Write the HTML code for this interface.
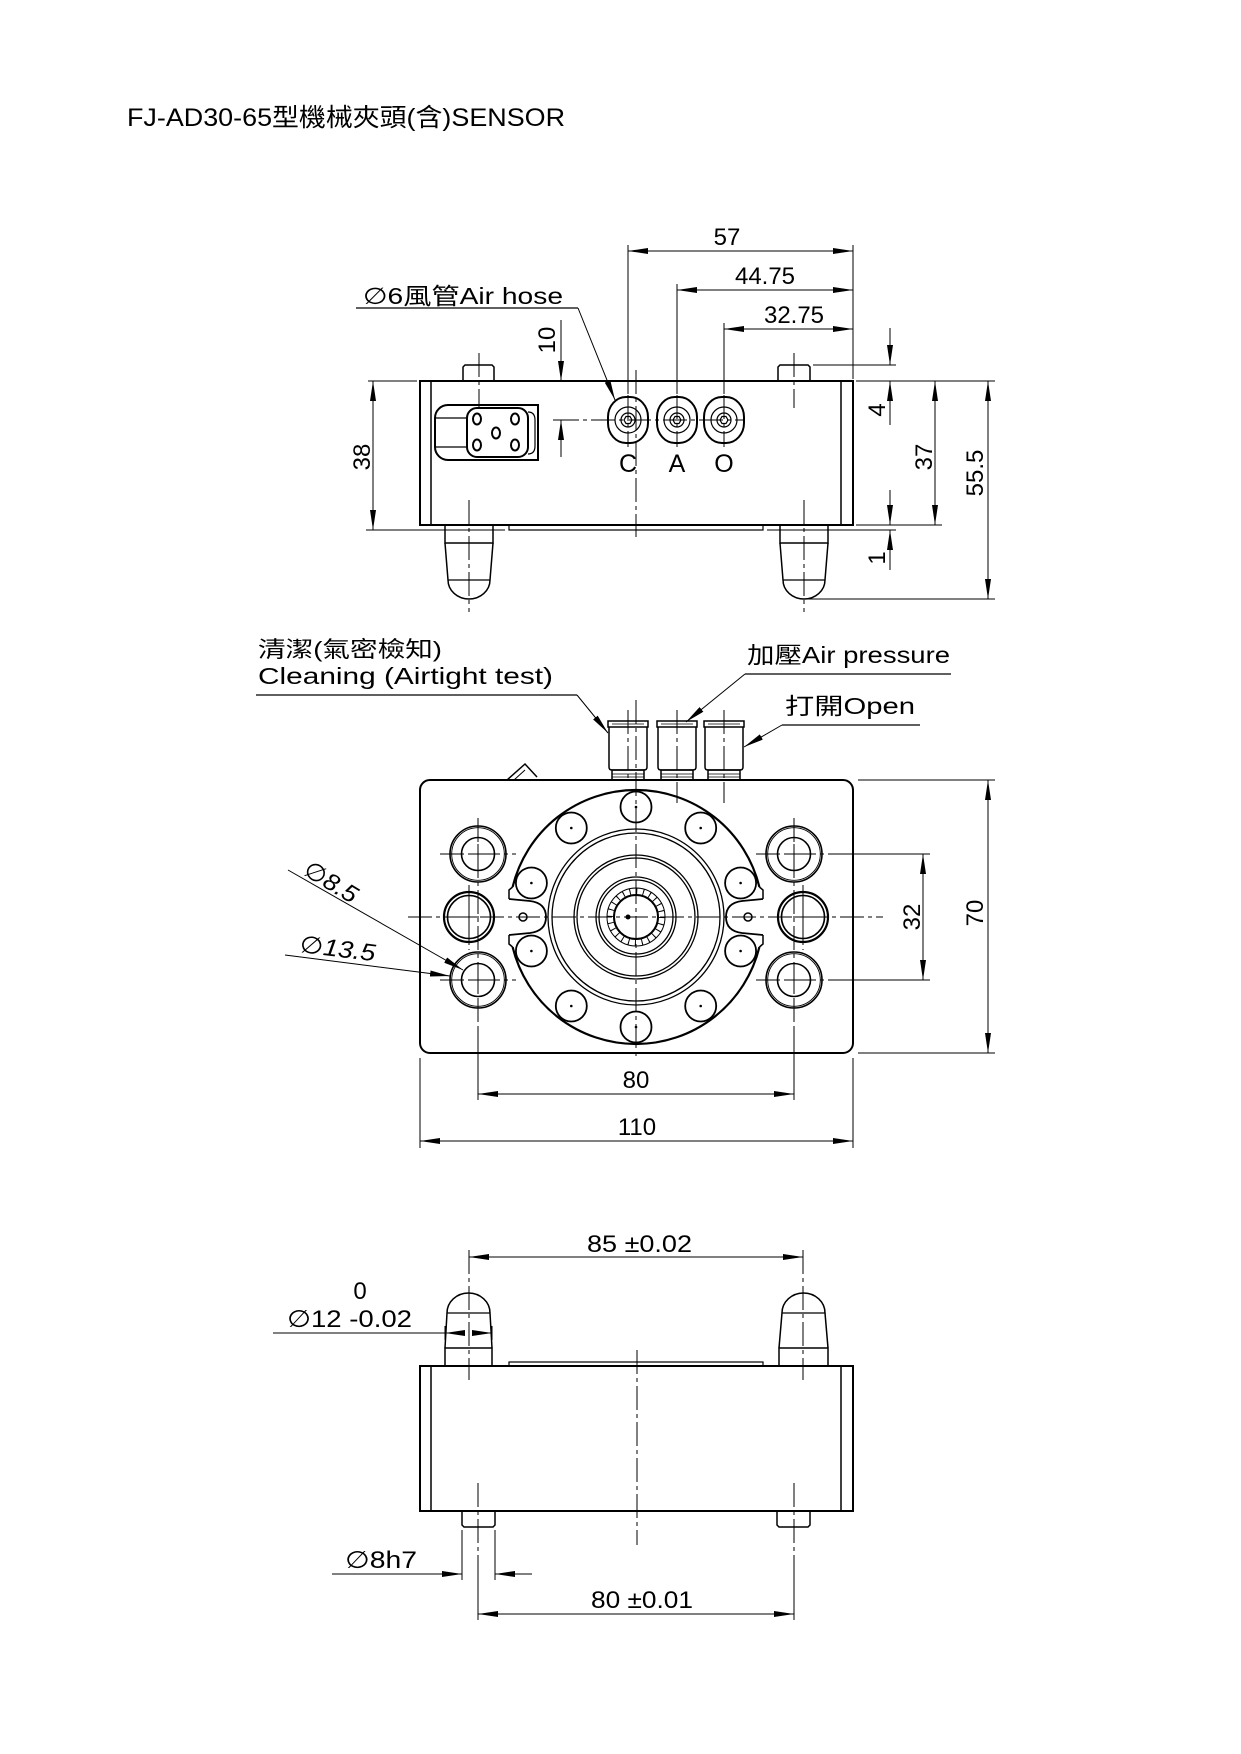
<!DOCTYPE html>
<html><head><meta charset="utf-8"><style>
html,body{margin:0;padding:0;background:#fff;}
svg{display:block;}
text{font-family:"Liberation Sans","DejaVu Sans","Noto Sans CJK TC",sans-serif;fill:#000;}
</style></head><body>
<svg width="1241" height="1754" viewBox="0 0 1241 1754" xmlns="http://www.w3.org/2000/svg">
<defs>
<marker id="a" viewBox="0 0 20 6" refX="20" refY="3" markerWidth="20" markerHeight="6" markerUnits="userSpaceOnUse" orient="auto-start-reverse"><path d="M0,0 L20,3 L0,6 z" fill="#000"/></marker>
</defs>
<rect width="1241" height="1754" fill="#fff"/>

<!-- Title -->
<text x="127" y="126" font-size="25" textLength="438" lengthAdjust="spacingAndGlyphs">FJ-AD30-65型機械夾頭(含)SENSOR</text>

<!-- ================= TOP VIEW ================= -->
<g fill="none" stroke="#000">
  <rect x="420" y="381" width="433" height="144" stroke-width="2"/>
  <line x1="431" y1="381" x2="431" y2="525" stroke-width="1.5"/>
  <line x1="841" y1="381" x2="841" y2="525" stroke-width="1.5"/>
  <rect x="509" y="525" width="254" height="5" stroke-width="1.2"/>
  <!-- top pins -->
  <path d="M463,381 V367 L465,365 H492 L494,367 V381" stroke-width="1.5"/>
  <path d="M778,381 V367 L780,365 H808 L810,367 V381" stroke-width="1.5"/>
  <!-- bullets -->
  <path d="M445,525 V543 H493 V525" stroke-width="1.5"/>
  <path d="M445,543 L448,580 A21,19 0 0 0 490,580 L493,543" stroke-width="1.5"/>
  <line x1="448" y1="580" x2="490" y2="580" stroke-width="1.2"/>
  <path d="M780,525 V543 H828 V525" stroke-width="1.5"/>
  <path d="M780,543 L783,580 A21,19 0 0 0 825,580 L828,543" stroke-width="1.5"/>
  <line x1="783" y1="580" x2="825" y2="580" stroke-width="1.2"/>
  <!-- connector -->
  <path d="M538,405 H448 A13,13 0 0 0 435,418 V447 A13,13 0 0 0 448,460 H538 Z" stroke-width="2"/>
  <rect x="467" y="408" width="61" height="49" rx="10" stroke-width="2"/>
  <line x1="435" y1="418" x2="467" y2="418" stroke-width="1.2"/>
  <line x1="435" y1="447" x2="467" y2="447" stroke-width="1.2"/>
  <path d="M528,412 Q535,412 535,420 V446 Q535,454 528,454" stroke-width="1.2"/>
  <ellipse cx="477" cy="419" rx="4" ry="5.5" stroke-width="2"/>
  <ellipse cx="515" cy="419" rx="4" ry="5.5" stroke-width="2"/>
  <ellipse cx="496" cy="433" rx="4" ry="5.5" stroke-width="2"/>
  <ellipse cx="477" cy="445" rx="4" ry="5.5" stroke-width="2"/>
  <ellipse cx="515" cy="445" rx="4" ry="5.5" stroke-width="2"/>
  <!-- ports -->
  <g stroke-width="2">
    <rect x="608" y="397" width="40" height="46" rx="18" ry="20"/>
    <rect x="657" y="397" width="40" height="46" rx="18" ry="20"/>
    <rect x="704" y="397" width="40" height="46" rx="18" ry="20"/>
  </g>
  <g stroke-width="1.2">
    <circle cx="628" cy="420" r="13"/><circle cx="628" cy="420" r="7"/>
    <circle cx="677" cy="420" r="13"/><circle cx="677" cy="420" r="7"/>
    <circle cx="724" cy="420" r="13"/><circle cx="724" cy="420" r="7"/>
    <polygon points="632,420 630,416.5 626,416.5 624,420 626,423.5 630,423.5"/>
    <polygon points="681,420 679,416.5 675,416.5 673,420 675,423.5 679,423.5"/>
    <polygon points="728,420 726,416.5 722,416.5 720,420 722,423.5 726,423.5"/>
  </g>
  <!-- centerlines -->
  <g stroke-width="1" stroke-dasharray="24 4 4 4">
    <line x1="555" y1="420" x2="745" y2="420"/>
    <line x1="636" y1="370" x2="636" y2="537"/>
    <line x1="479" y1="353" x2="479" y2="407"/>
    <line x1="794" y1="353" x2="794" y2="408"/>
    <line x1="469" y1="500" x2="469" y2="612"/>
    <line x1="804" y1="500" x2="804" y2="612"/>
    <line x1="628" y1="395" x2="628" y2="447"/>
    <line x1="677" y1="395" x2="677" y2="447"/>
    <line x1="724" y1="395" x2="724" y2="447"/>
  </g>
  <!-- extension lines -->
  <g stroke-width="1">
    <line x1="628" y1="245" x2="628" y2="394"/>
    <line x1="677" y1="284" x2="677" y2="394"/>
    <line x1="724" y1="323" x2="724" y2="394"/>
    <line x1="853" y1="245" x2="853" y2="379"/>
    <line x1="368" y1="381" x2="417" y2="381"/>
    <line x1="366" y1="530" x2="505" y2="530"/>
    <line x1="813" y1="365" x2="896" y2="365"/>
    <line x1="856" y1="381" x2="995" y2="381"/>
    <line x1="856" y1="525" x2="942" y2="525"/>
    <line x1="767" y1="530" x2="896" y2="530"/>
    <line x1="806" y1="599" x2="995" y2="599"/>
    <line x1="553" y1="420" x2="570" y2="420"/>
  </g>
  <!-- dimension lines -->
  <g stroke-width="1">
    <line x1="628" y1="251" x2="853" y2="251" marker-start="url(#a)" marker-end="url(#a)"/>
    <line x1="677" y1="290" x2="853" y2="290" marker-start="url(#a)" marker-end="url(#a)"/>
    <line x1="724" y1="329" x2="853" y2="329" marker-start="url(#a)" marker-end="url(#a)"/>
    <line x1="373" y1="381" x2="373" y2="530" marker-start="url(#a)" marker-end="url(#a)"/>
    <line x1="935" y1="381" x2="935" y2="525" marker-start="url(#a)" marker-end="url(#a)"/>
    <line x1="988" y1="381" x2="988" y2="599" marker-start="url(#a)" marker-end="url(#a)"/>
    <line x1="561" y1="320" x2="561" y2="381" marker-end="url(#a)"/>
    <line x1="561" y1="457" x2="561" y2="420" marker-end="url(#a)"/>
    <line x1="890" y1="328" x2="890" y2="365" marker-end="url(#a)"/>
    <line x1="890" y1="425" x2="890" y2="381" marker-end="url(#a)"/>
    <line x1="890" y1="490" x2="890" y2="525" marker-end="url(#a)"/>
    <line x1="890" y1="570" x2="890" y2="530" marker-end="url(#a)"/>
    <line x1="356" y1="308" x2="578" y2="308" stroke-width="1.3"/>
    <line x1="578" y1="308" x2="615" y2="400" marker-end="url(#a)"/>
  </g>
</g>
<text x="363" y="304" font-size="23" textLength="200" lengthAdjust="spacingAndGlyphs">∅6風管Air hose</text>
<g font-size="24" text-anchor="middle">
  <text x="727" y="245">57</text>
  <text x="765" y="284">44.75</text>
  <text x="794" y="323">32.75</text>
  <text transform="translate(555,340) rotate(-90)">10</text>
  <text transform="translate(370,457) rotate(-90)">38</text>
  <text transform="translate(885,410) rotate(-90)">4</text>
  <text transform="translate(932,457) rotate(-90)">37</text>
  <text transform="translate(885,558) rotate(-90)">1</text>
  <text transform="translate(983,473) rotate(-90)">55.5</text>
</g>
<g font-size="25" text-anchor="middle">
  <text x="628" y="472">C</text>
  <text x="677" y="472">A</text>
  <text x="724" y="472">O</text>
</g>

<!-- ================= MIDDLE VIEW ================= -->
<text x="258" y="657" font-size="22" textLength="184" lengthAdjust="spacingAndGlyphs">清潔(氣密檢知)</text>
<text x="258" y="684" font-size="23" textLength="295" lengthAdjust="spacingAndGlyphs">Cleaning (Airtight test)</text>
<text x="747" y="663" font-size="23" textLength="203" lengthAdjust="spacingAndGlyphs">加壓Air pressure</text>
<text x="785" y="714" font-size="23" textLength="130" lengthAdjust="spacingAndGlyphs">打開Open</text>

<g fill="none" stroke="#000">
  <rect x="420" y="780" width="433" height="273" rx="10" stroke-width="2"/>
  <!-- small triangle -->
  <path d="M507,780 L525,764 L537,777" stroke-width="1.5"/>
  <path d="M514,780 L525,770" stroke-width="1"/>
  <!-- fittings -->
  <g stroke-width="1.5">
    <rect x="608" y="721" width="40" height="6"/>
    <path d="M609,727 V767 Q609,770 612,770 H644 Q647,770 647,767 V727"/>
    <rect x="612" y="770" width="32" height="10"/>
    <rect x="657" y="721" width="40" height="6"/>
    <path d="M658,727 V767 Q658,770 661,770 H693 Q696,770 696,767 V727"/>
    <rect x="661" y="770" width="32" height="10"/>
    <rect x="704" y="721" width="40" height="6"/>
    <path d="M705,727 V767 Q705,770 708,770 H740 Q743,770 743,767 V727"/>
    <rect x="708" y="770" width="32" height="10"/>
  </g>
  <g stroke-width="0.8">
    <line x1="612" y1="774" x2="644" y2="774"/><line x1="612" y1="777" x2="644" y2="777"/>
    <line x1="661" y1="774" x2="693" y2="774"/><line x1="661" y1="777" x2="693" y2="777"/>
    <line x1="708" y1="774" x2="740" y2="774"/><line x1="708" y1="777" x2="740" y2="777"/>
    <line x1="612" y1="724" x2="644" y2="724"/>
    <line x1="661" y1="724" x2="693" y2="724"/>
    <line x1="708" y1="724" x2="740" y2="724"/>
  </g>
  <!-- main flange -->
  <path d="M759.4,887 A127,127 0 0 0 512.6,887" stroke-width="2.2"/>
  <path d="M512.6,947 A127,127 0 0 0 759.4,947" stroke-width="2.2"/>
  <path d="M759.4,887 L763,890 V899" stroke-width="1.5"/>
  <path d="M759.4,947 L763,944 V935" stroke-width="1.5"/>
  <path d="M512.6,887 L509,890 V899" stroke-width="1.5"/>
  <path d="M512.6,947 L509,944 V935" stroke-width="1.5"/>
  <path d="M763,899 L742,901 Q726,903 726,917 Q726,931 742,933 L763,935" stroke-width="1.8"/>
  <path d="M509,899 L530,901 Q546,903 546,917 Q546,931 530,933 L509,935" stroke-width="1.8"/>
  <circle cx="748" cy="917" r="4" stroke-width="1.5"/>
  <circle cx="523" cy="917" r="4" stroke-width="1.5"/>
  <!-- bolt holes -->
  <g stroke-width="1.8">
    <circle cx="740.6" cy="883" r="15.5"/>
    <circle cx="700.7" cy="828" r="15.5"/>
    <circle cx="636" cy="807" r="15.5"/>
    <circle cx="571.3" cy="828" r="15.5"/>
    <circle cx="531.4" cy="883" r="15.5"/>
    <circle cx="531.4" cy="951" r="15.5"/>
    <circle cx="571.3" cy="1006" r="15.5"/>
    <circle cx="636" cy="1027" r="15.5"/>
    <circle cx="700.7" cy="1006" r="15.5"/>
    <circle cx="740.6" cy="951" r="15.5"/>
  </g>
  <!-- rings -->
  <g stroke-width="1.3">
    <circle cx="636" cy="917" r="88"/>
    <circle cx="636" cy="917" r="84"/>
    <circle cx="636" cy="917" r="62"/>
    <circle cx="636" cy="917" r="59"/>
    <circle cx="636" cy="917" r="40"/>
    <circle cx="636" cy="917" r="37"/>
    <circle cx="636" cy="917" r="29" stroke-width="1"/>
  </g>
  <circle cx="636" cy="917" r="25.5" stroke-width="7" stroke-dasharray="1 5.68"/>
  <circle cx="636" cy="917" r="22" stroke-width="2"/>
  <!-- side holes -->
  <g stroke-width="1.6">
    <circle cx="478" cy="854" r="28"/><circle cx="478" cy="854" r="16.5"/>
    <circle cx="478" cy="980" r="28"/><circle cx="478" cy="980" r="16.5"/>
    <circle cx="794" cy="854" r="28"/><circle cx="794" cy="854" r="16.5"/>
    <circle cx="794" cy="980" r="28"/><circle cx="794" cy="980" r="16.5"/>
    <circle cx="469" cy="917" r="25" stroke-width="2.2"/><circle cx="469" cy="917" r="21.5"/>
    <circle cx="803" cy="917" r="25" stroke-width="2.2"/><circle cx="803" cy="917" r="21.5"/>
  </g>
  <g stroke-width="0.9">
    <circle cx="478" cy="854" r="26.3"/><circle cx="478" cy="980" r="26.3"/>
    <circle cx="794" cy="854" r="26.3"/><circle cx="794" cy="980" r="26.3"/>
  </g>
  <!-- crosses -->
  <g stroke-width="1">
    <path d="M468,854 H488 M478,844 V864"/>
    <path d="M468,980 H488 M478,970 V990"/>
    <path d="M784,854 H804 M794,844 V864"/>
    <path d="M784,980 H804 M794,970 V990"/>
    <path d="M459,917 H479 M469,907 V927"/>
    <path d="M793,917 H813 M803,907 V927"/>
  </g>
  <!-- centerlines -->
  <g stroke-width="1" stroke-dasharray="24 4 4 4">
    <line x1="408" y1="917" x2="883" y2="917"/>
    <line x1="636" y1="700" x2="636" y2="1060"/>
    <line x1="440" y1="854" x2="516" y2="854"/>
    <line x1="440" y1="980" x2="516" y2="980"/>
    <line x1="756" y1="854" x2="832" y2="854"/>
    <line x1="756" y1="980" x2="832" y2="980"/>
    <line x1="478" y1="818" x2="478" y2="1030"/>
    <line x1="794" y1="818" x2="794" y2="1030"/>
    <line x1="469" y1="885" x2="469" y2="950"/>
    <line x1="803" y1="885" x2="803" y2="950"/>
    <line x1="628" y1="710" x2="628" y2="782"/>
    <line x1="677" y1="710" x2="677" y2="803"/>
    <line x1="724" y1="710" x2="724" y2="803"/>
  </g>
  <!-- dims -->
  <g stroke-width="1">
    <line x1="832" y1="854" x2="930" y2="854"/>
    <line x1="832" y1="980" x2="930" y2="980"/>
    <line x1="858" y1="780" x2="995" y2="780"/>
    <line x1="858" y1="1053" x2="995" y2="1053"/>
    <line x1="478" y1="1030" x2="478" y2="1100"/>
    <line x1="794" y1="1030" x2="794" y2="1100"/>
    <line x1="420" y1="1058" x2="420" y2="1148"/>
    <line x1="853" y1="1058" x2="853" y2="1148"/>
    <line x1="923" y1="854" x2="923" y2="980" marker-start="url(#a)" marker-end="url(#a)"/>
    <line x1="988" y1="780" x2="988" y2="1053" marker-start="url(#a)" marker-end="url(#a)"/>
    <line x1="478" y1="1094" x2="794" y2="1094" marker-start="url(#a)" marker-end="url(#a)"/>
    <line x1="420" y1="1141" x2="853" y2="1141" marker-start="url(#a)" marker-end="url(#a)"/>
    <!-- leaders -->
    <line x1="256" y1="695" x2="577" y2="695" stroke-width="1.3"/>
    <line x1="577" y1="695" x2="608" y2="733" marker-end="url(#a)"/>
    <line x1="745" y1="674" x2="951" y2="674" stroke-width="1.3"/>
    <line x1="745" y1="674" x2="686" y2="722" marker-end="url(#a)"/>
    <line x1="782" y1="725" x2="920" y2="725" stroke-width="1.3"/>
    <line x1="782" y1="725" x2="744" y2="747" marker-end="url(#a)"/>
    <line x1="288" y1="870" x2="463" y2="970" marker-end="url(#a)"/>
    <line x1="285" y1="955" x2="450" y2="976" marker-end="url(#a)"/>
  </g>
</g>
<g fill="#000">
  <circle cx="740.6" cy="883" r="1.3"/><circle cx="700.7" cy="828" r="1.3"/>
  <circle cx="636" cy="807" r="1.3"/><circle cx="571.3" cy="828" r="1.3"/>
  <circle cx="531.4" cy="883" r="1.3"/><circle cx="531.4" cy="951" r="1.3"/>
  <circle cx="571.3" cy="1006" r="1.3"/><circle cx="636" cy="1027" r="1.3"/>
  <circle cx="700.7" cy="1006" r="1.3"/><circle cx="740.6" cy="951" r="1.3"/>
  <circle cx="628" cy="917" r="2.5"/>
</g>
<g font-size="24">
  <text transform="translate(302,874) rotate(31)" font-style="italic" textLength="58" lengthAdjust="spacingAndGlyphs">∅8.5</text>
  <text transform="translate(299,952) rotate(7)" font-style="italic" textLength="76" lengthAdjust="spacingAndGlyphs">∅13.5</text>
</g>
<g font-size="24" text-anchor="middle">
  <text transform="translate(920,917) rotate(-90)">32</text>
  <text transform="translate(983,913) rotate(-90)">70</text>
  <text x="636" y="1088">80</text>
  <text x="637" y="1135">110</text>
</g>

<!-- ================= BOTTOM VIEW ================= -->
<g fill="none" stroke="#000">
  <rect x="420" y="1366" width="433" height="145" stroke-width="2"/>
  <line x1="431" y1="1366" x2="431" y2="1511" stroke-width="1.5"/>
  <line x1="841" y1="1366" x2="841" y2="1511" stroke-width="1.5"/>
  <rect x="509" y="1362" width="254" height="4" stroke-width="1.2"/>
  <!-- bullets -->
  <path d="M445,1366 V1348 H492 V1366" stroke-width="1.5"/>
  <path d="M445,1348 L447,1313 A21.5,20 0 0 1 490,1313 L492,1348" stroke-width="1.5"/>
  <line x1="447" y1="1313" x2="490" y2="1313" stroke-width="1.2"/>
  <path d="M779,1366 V1348 H828 V1366" stroke-width="1.5"/>
  <path d="M779,1348 L782,1313 A21.5,20 0 0 1 825,1313 L828,1348" stroke-width="1.5"/>
  <line x1="782" y1="1313" x2="825" y2="1313" stroke-width="1.2"/>
  <!-- small pins -->
  <path d="M462,1511 V1525 L464,1527 H493 L495,1525 V1511" stroke-width="1.5"/>
  <path d="M777,1511 V1525 L779,1527 H808 L810,1525 V1511" stroke-width="1.5"/>
  <!-- centerlines -->
  <g stroke-width="1" stroke-dasharray="24 4 4 4">
    <line x1="637" y1="1350" x2="637" y2="1545"/>
    <line x1="469" y1="1250" x2="469" y2="1380"/>
    <line x1="803" y1="1250" x2="803" y2="1380"/>
    <line x1="478" y1="1483" x2="478" y2="1570"/>
    <line x1="794" y1="1483" x2="794" y2="1570"/>
  </g>
  <g stroke-width="1">
    <line x1="478" y1="1570" x2="478" y2="1620"/>
    <line x1="794" y1="1570" x2="794" y2="1620"/>
    <line x1="469" y1="1257" x2="803" y2="1257" marker-start="url(#a)" marker-end="url(#a)"/>
    <line x1="478" y1="1614" x2="794" y2="1614" marker-start="url(#a)" marker-end="url(#a)"/>
    <!-- Ø12 -->
    <line x1="273" y1="1333" x2="445" y2="1333"/>
    <line x1="465" y1="1333" x2="445" y2="1333" marker-end="url(#a)"/>
    <line x1="472" y1="1333" x2="492" y2="1333" marker-end="url(#a)"/>
    <line x1="445" y1="1326" x2="445" y2="1340"/>
    <line x1="492" y1="1326" x2="492" y2="1340"/>
    <!-- Ø8h7 -->
    <line x1="332" y1="1574" x2="462" y2="1574" marker-end="url(#a)"/>
    <line x1="532" y1="1574" x2="495" y2="1574" marker-end="url(#a)"/>
    <line x1="462" y1="1530" x2="462" y2="1580"/>
    <line x1="495" y1="1530" x2="495" y2="1580"/>
  </g>
</g>
<g font-size="24">
  <text x="587" y="1252" textLength="105" lengthAdjust="spacingAndGlyphs">85 ±0.02</text>
  <text x="360" y="1299" text-anchor="middle">0</text>
  <text x="287" y="1327" textLength="125" lengthAdjust="spacingAndGlyphs">∅12 -0.02</text>
  <text x="345" y="1568" textLength="72" lengthAdjust="spacingAndGlyphs">∅8h7</text>
  <text x="591" y="1608" textLength="102" lengthAdjust="spacingAndGlyphs">80 ±0.01</text>
</g>
</svg>
</body></html>
